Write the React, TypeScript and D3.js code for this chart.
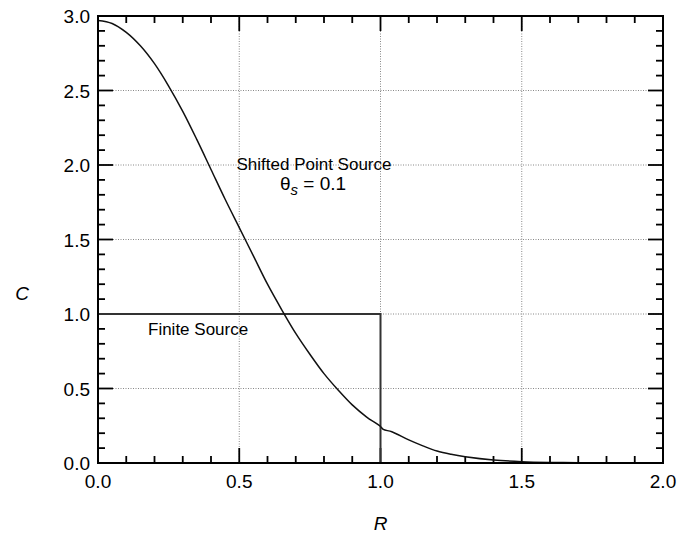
import React from "react";
import * as d3 from "d3";

const curveR = [0, 0.05, 0.1, 0.15, 0.2, 0.25, 0.3, 0.35, 0.4, 0.45, 0.5, 0.55, 0.6, 0.65, 0.7, 0.75, 0.8, 0.85, 0.9, 0.95, 1.0, 1.01, 1.04, 1.1, 1.15, 1.2, 1.25, 1.3, 1.4, 1.5, 1.6, 1.7, 1.8, 1.9, 2.0];
const curveC = [2.97, 2.95, 2.89, 2.8, 2.68, 2.53, 2.36, 2.17, 1.97, 1.77, 1.58, 1.39, 1.2, 1.03, 0.87, 0.73, 0.6, 0.49, 0.39, 0.31, 0.245, 0.225, 0.21, 0.155, 0.115, 0.08, 0.058, 0.042, 0.02, 0.009, 0.004, 0.002, 0.001, 0.0005, 0];

const finiteR = [0, 1, 1];
const finiteC = [1, 1, 0];

const xMajor = [0, 0.5, 1.0, 1.5, 2.0];
const yMajor = [0, 0.5, 1.0, 1.5, 2.0, 2.5, 3.0];
const xMinorCount = 20;
const yMinorCount = 30;

const W = 680;
const H = 534;
const L = 98;
const R = 663;
const T = 16;
const B = 463;
const FONT = "'Liberation Sans', Arial, Helvetica, sans-serif";

export default function App() {
  const x = d3.scaleLinear().domain([0, 2]).range([L, R]);
  const y = d3.scaleLinear().domain([0, 3]).range([B, T]);

  const curvePts: [number, number][] = curveR.map((r, i) => [r, curveC[i]]);
  const finitePts: [number, number][] = finiteR.map((r, i) => [r, finiteC[i]]);
  const line = d3
    .line<[number, number]>()
    .x((d) => x(d[0]))
    .y((d) => y(d[1]))
    .curve(d3.curveCatmullRom.alpha(0.5));
  const lineLin = d3
    .line<[number, number]>()
    .x((d) => x(d[0]))
    .y((d) => y(d[1]));

  const xMinor = d3.range(xMinorCount + 1).map((i) => (i * 2) / xMinorCount);
  const yMinor = d3.range(yMinorCount + 1).map((i) => (i * 3) / yMinorCount);
  const isMajor = (v: number) => Math.abs(v * 2 - Math.round(v * 2)) < 1e-6;

  return (
    <svg
      width={W}
      height={H}
      style={{ position: "absolute", left: 0, top: 0, background: "#fff" }}
      fontFamily={FONT}
    >
      {/* grid */}
      {xMajor
        .filter((v) => v > 0 && v < 2)
        .map((v) => (
          <line key={"gx" + v} x1={x(v)} x2={x(v)} y1={T} y2={B} stroke="#888" strokeWidth={1} strokeDasharray="1,1.5" />
        ))}
      {yMajor
        .filter((v) => v > 0 && v < 3)
        .map((v) => (
          <line key={"gy" + v} x1={L} x2={R} y1={y(v)} y2={y(v)} stroke="#888" strokeWidth={1} strokeDasharray="1,1.5" />
        ))}

      {/* ticks */}
      {xMinor.map((v, i) => {
        const len = isMajor(v) ? 15 : 7;
        return (
          <g key={"tx" + i}>
            <line x1={x(v)} x2={x(v)} y1={B} y2={B - len} stroke="#000" strokeWidth={1.8} />
            <line x1={x(v)} x2={x(v)} y1={T} y2={T + len} stroke="#000" strokeWidth={1.8} />
          </g>
        );
      })}
      {yMinor.map((v, i) => {
        const len = isMajor(v) ? 15 : 7;
        return (
          <g key={"ty" + i}>
            <line x1={L} x2={L + len} y1={y(v)} y2={y(v)} stroke="#000" strokeWidth={1.8} />
            <line x1={R} x2={R - len} y1={y(v)} y2={y(v)} stroke="#000" strokeWidth={1.8} />
          </g>
        );
      })}

      {/* series */}
      <path d={lineLin(finitePts) || ""} fill="none" stroke="#333" strokeWidth={2} />
      <path d={line(curvePts) || ""} fill="none" stroke="#111" strokeWidth={1.5} />

      {/* frame */}
      <rect x={L} y={T} width={R - L} height={B - T} fill="none" stroke="#000" strokeWidth={2} />

      {/* tick labels */}
      {xMajor.map((v) => (
        <text key={"lx" + v} x={x(v)} y={B + 25} textAnchor="middle" fontSize={19}>
          {v.toFixed(1)}
        </text>
      ))}
      {yMajor.map((v) => (
        <text key={"ly" + v} x={L - 8} y={y(v) + 7} textAnchor="end" fontSize={19}>
          {v.toFixed(1)}
        </text>
      ))}

      {/* axis titles */}
      <text x={x(1)} y={530} textAnchor="middle" fontSize={19} fontStyle="italic">
        R
      </text>
      <text x={22} y={300} textAnchor="middle" fontSize={19} fontStyle="italic">
        C
      </text>

      {/* annotations */}
      <text x={314} y={170} textAnchor="middle" fontSize={17}>
        Shifted Point Source
      </text>
      <text x={313} y={190} textAnchor="middle" fontSize={19}>
        θ
        <tspan fontStyle="italic" fontSize={15} dy={5}>s</tspan>
        <tspan dy={-5}> = 0.1</tspan>
      </text>
      <text x={148} y={335} fontSize={17}>
        Finite Source
      </text>
    </svg>
  );
}
